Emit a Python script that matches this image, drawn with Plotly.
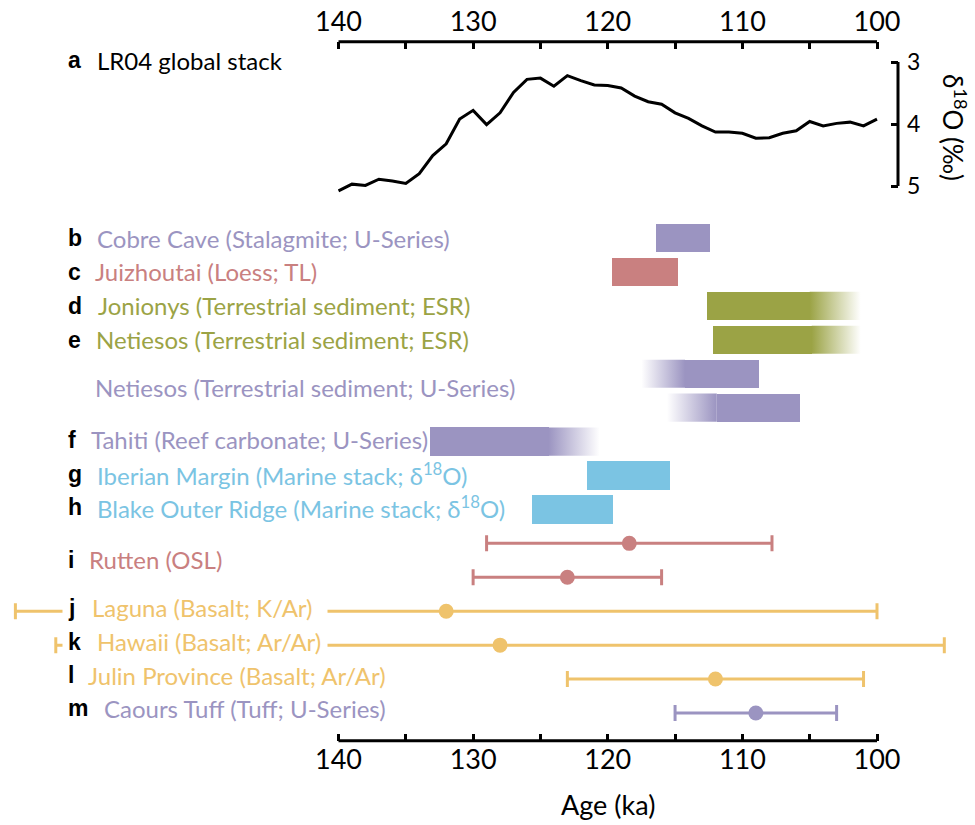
import plotly.graph_objects as go

# ---------------- data ----------------
lr04_age = [140, 139, 138, 137, 136, 135, 134, 133, 132, 131, 130, 129, 128, 127, 126, 125,
            124, 123, 122, 121, 120, 119, 118, 117, 116, 115, 114, 113, 112, 111, 110, 109,
            108, 107, 106, 105, 104, 103, 102, 101, 100]
lr04_d18o = [5.08, 4.97, 4.99, 4.89, 4.92, 4.96, 4.80, 4.51, 4.32, 3.92, 3.78, 4.01, 3.82,
             3.49, 3.28, 3.26, 3.39, 3.22, 3.30, 3.37, 3.38, 3.42, 3.55, 3.64, 3.68, 3.82,
             3.91, 4.03, 4.13, 4.13, 4.15, 4.23, 4.22, 4.15, 4.11, 3.96, 4.03, 3.99, 3.97,
             4.03, 3.92]

# range bars (ages in ka): outer old edge, solid old edge, solid young edge, outer young edge
bar_rows = [0, 1, 2, 3, 4, 5, 6, 7, 8]
bar_old_outer = [116.4, 119.7, 112.65, 112.15, 117.5, 115.6, 133.2, 121.56, 125.65]
bar_solid_old = [116.4, 119.7, 112.65, 112.15, 114.26, 111.9, 133.2, 121.56, 125.65]
bar_solid_young = [112.4, 114.76, 105.0, 104.85, 108.76, 105.7, 124.4, 115.37, 119.6]
bar_young_outer = [112.4, 114.76, 101.2, 101.2, 108.76, 105.7, 120.6, 115.37, 119.6]
bar_colors = ["purple", "pink", "olive", "olive", "purple", "purple", "purple", "cyan", "cyan"]

# point ages with uncertainty ranges
err_rows = [9, 10, 11, 12, 13, 14]
err_mid = [118.4, 123.0, 132.0, 128.0, 112.0, 109.0]
err_old = [129.0, 130.0, 164.0, 161.0, 123.0, 115.0]
err_young = [107.8, 116.0, 100.0, 95.0, 101.0, 103.0]
err_colors = ["pink", "pink", "gold", "gold", "gold", "purple"]

label_letters = ["b", "c", "d", "e", "", "f", "g", "h", "i", "j", "k", "l", "m"]
label_texts = ["Cobre Cave (Stalagmite; U-Series)", "Juizhoutai (Loess; TL)",
               "Jonionys (Terrestrial sediment; ESR)", "Netiesos (Terrestrial sediment; ESR)",
               "Netiesos (Terrestrial sediment; U-Series)", "Tahiti (Reef carbonate; U-Series)",
               "Iberian Margin (Marine stack; δ<sup>18</sup>O)",
               "Blake Outer Ridge (Marine stack; δ<sup>18</sup>O)",
               "Rutten (OSL)", "Laguna (Basalt; K/Ar)", "Hawaii (Basalt; Ar/Ar)",
               "Julin Province (Basalt; Ar/Ar)", "Caours Tuff (Tuff; U-Series)"]
label_rows = [0, 1, 2, 3, 4.42, 5.95, 6.96, 7.93, 9.49, 10.9, 11.9, 12.88, 13.86]
label_colors = ["purple", "pink", "olive", "olive", "purple", "purple", "cyan", "cyan",
                "pink", "gold", "gold", "gold", "purple"]
label_text_px = [97, 95, 98, 96, 95, 91, 97, 97, 89, 92, 97, 88, 104]
masked_rows = [11, 12]

age_ticks = [140, 135, 130, 125, 120, 115, 110, 105, 100]
age_ticktext = ["140", "", "130", "", "120", "", "110", "", "100"]
d18o_ticks = [3, 4, 5]

# ---------------- style ----------------
PAL = {"purple": (155, 148, 193), "pink": (201, 128, 128), "olive": (155, 163, 69),
       "cyan": (123, 196, 227), "gold": (239, 195, 108)}


def rgba(name, a=1.0):
    r, g, b = PAL[name]
    return f"rgba({r},{g},{b},{a})"


W, H = 975, 825
PX140, PX100 = 338.5, 877.0
pxk = (PX100 - PX140) / (age_ticks[0] - age_ticks[-1])
x_range = [age_ticks[0] + PX140 / pxk, age_ticks[-1] - (W - PX100) / pxk]

TOP_AX, BOT_AX, SPLIT = 41.7, 740.7, 200.0
Y3PX, Y5PX = 62.0, 186.0
ROW0PX, ROW14PX = 238.0, 713.0
RIGHT_AX_PX = 898.0


def pyp(px):
    return 1 - px / H


def pxp(px):
    return px / W


d_px = (Y5PX - Y3PX) / (d18o_ticks[-1] - d18o_ticks[0])
y2_range = [5 + (SPLIT - Y5PX) / d_px, 3 - (Y3PX - TOP_AX) / d_px]
r_px = (ROW14PX - ROW0PX) / 14
y_range = [(BOT_AX - ROW0PX) / r_px, (SPLIT - ROW0PX) / r_px]

TXT_FONT = "Lato, Open Sans, sans-serif"
LET_FONT = "Liberation Sans, Arial, sans-serif"
TXT_SIZE = 24
BAR_H = 0.83

fig = go.Figure()

# LR04 curve
fig.add_trace(go.Scatter(x=lr04_age, y=lr04_d18o, mode="lines", xaxis="x2", yaxis="y2",
                         line=dict(color="black", width=3), showlegend=False, hoverinfo="skip"))

# solid bars
fig.add_trace(go.Bar(orientation="h", y=bar_rows,
                     x=[o - y for o, y in zip(bar_solid_old, bar_solid_young)],
                     base=bar_solid_young, width=BAR_H,
                     marker=dict(color=[rgba(c) for c in bar_colors], line=dict(width=0)),
                     showlegend=False, hoverinfo="skip"))

# fading parts of bars
for r, oo, so, sy, yo, c in zip(bar_rows, bar_old_outer, bar_solid_old, bar_solid_young,
                                bar_young_outer, bar_colors):
    for a, b, solid_at_low in ((sy, yo, False), (so, oo, True)):
        if abs(a - b) < 1e-9:
            continue
        lo, hi = min(a, b), max(a, b)
        cs = [[0, rgba(c, 1)], [1, rgba(c, 0)]] if solid_at_low else [[0, rgba(c, 0)], [1, rgba(c, 1)]]
        fig.add_trace(go.Scatter(
            x=[lo, hi, hi, lo, lo],
            y=[r - BAR_H / 2, r - BAR_H / 2, r + BAR_H / 2, r + BAR_H / 2, r - BAR_H / 2],
            mode="lines", fill="toself", line=dict(width=0),
            fillgradient=dict(type="horizontal", colorscale=cs, start=lo, stop=hi),
            showlegend=False, hoverinfo="skip"))

# point ages with error bars
for r, m, o, y, c in zip(err_rows, err_mid, err_old, err_young, err_colors):
    fig.add_trace(go.Scatter(
        x=[m], y=[r], mode="markers",
        marker=dict(color=rgba(c), size=15),
        error_x=dict(type="data", symmetric=False, array=[o - m], arrayminus=[m - y],
                     color=rgba(c), thickness=3, width=8),
        showlegend=False, hoverinfo="skip"))

annotations = []
# white masks behind labels j and k
for r in masked_rows:
    annotations.append(dict(xref="paper", yref="y", x=pxp(62), y=r, xanchor="left",
                            yanchor="middle", text="\u00a0", width=264, height=22,
                            bgcolor="white", showarrow=False, borderpad=0))

for let, txt, r, col, tx in zip(label_letters, label_texts, label_rows, label_colors, label_text_px):
    if let:
        annotations.append(dict(xref="paper", yref="y", x=pxp(66), y=r, xanchor="left",
                                yanchor="middle", text=f"<b>{let}</b>", showarrow=False,
                                font=dict(family=LET_FONT, size=23, color="black")))
    annotations.append(dict(xref="paper", yref="y", x=pxp(tx - 2), y=r, xanchor="left",
                            yanchor="middle", text=txt, showarrow=False,
                            font=dict(family=TXT_FONT, size=TXT_SIZE, color=rgba(col))))

# panel a label
annotations.append(dict(xref="paper", yref="paper", x=pxp(66), y=pyp(60), xanchor="left",
                        yanchor="middle", text="<b>a</b>", showarrow=False,
                        font=dict(family=LET_FONT, size=23, color="black")))
annotations.append(dict(xref="paper", yref="paper", x=pxp(95), y=pyp(60), xanchor="left",
                        yanchor="middle", text="LR04 global stack", showarrow=False,
                        font=dict(family=TXT_FONT, size=TXT_SIZE, color="black")))
# right axis title
annotations.append(dict(xref="paper", yref="paper", x=pxp(955), y=pyp(127), xanchor="center",
                        yanchor="middle", text="δ<sup>18</sup>O (‰)", textangle=90,
                        showarrow=False, borderpad=0,
                        font=dict(family=TXT_FONT, size=26, color="black")))
# x axis title
annotations.append(dict(xref="x", yref="paper", x=120, y=pyp(804), xanchor="center",
                        yanchor="middle", text="Age (ka)", showarrow=False,
                        font=dict(family=TXT_FONT, size=27, color="black")))

shapes = [
    dict(type="line", xref="x", yref="paper", x0=age_ticks[0], x1=age_ticks[-1],
         y0=pyp(BOT_AX), y1=pyp(BOT_AX), line=dict(color="black", width=3)),
    dict(type="line", xref="x2", yref="paper", x0=age_ticks[0], x1=age_ticks[-1],
         y0=pyp(TOP_AX), y1=pyp(TOP_AX), line=dict(color="black", width=3)),
    dict(type="line", xref="paper", yref="y2", x0=pxp(RIGHT_AX_PX), x1=pxp(RIGHT_AX_PX),
         y0=d18o_ticks[0], y1=d18o_ticks[-1], line=dict(color="black", width=3)),
]

xcommon = dict(range=x_range, tickvals=age_ticks, ticktext=age_ticktext, ticks="inside",
               ticklen=7, tickwidth=2.5, tickcolor="black", showline=False, showgrid=False,
               zeroline=False, tickfont=dict(family=TXT_FONT, size=27, color="black"),
               domain=[0, 1])

fig.update_layout(
    width=W, height=H, margin=dict(l=0, r=0, t=0, b=0),
    paper_bgcolor="white", plot_bgcolor="rgba(0,0,0,0)",
    xaxis=dict(**xcommon, anchor="y", side="bottom"),
    xaxis2=dict(**xcommon, anchor="y2", side="top", matches="x", ticklabelstandoff=4),
    yaxis=dict(domain=[pyp(BOT_AX), pyp(SPLIT)], range=y_range, visible=False),
    yaxis2=dict(domain=[pyp(SPLIT), pyp(TOP_AX)], range=y2_range, side="right",
                anchor="free", position=pxp(RIGHT_AX_PX), tickvals=d18o_ticks,
                ticks="inside", ticklen=7, tickwidth=2.5, tickcolor="black",
                showline=False, showgrid=False, zeroline=False, ticklabelstandoff=8,
                tickfont=dict(family=TXT_FONT, size=23, color="black")),
    annotations=annotations, shapes=shapes, bargap=0, showlegend=False,
)

fig.write_html("out.html", config={"displayModeBar": False},
               post_script="document.body.style.margin='0px';")
